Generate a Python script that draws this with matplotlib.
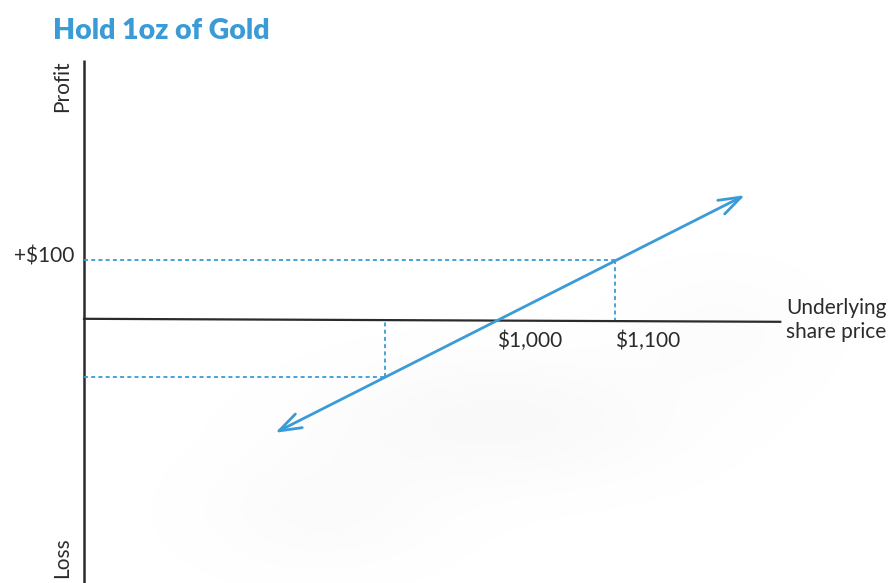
import matplotlib
matplotlib.use("Agg")
import matplotlib.pyplot as plt
import numpy as np

# Data (price in $, profit in $)
strike_prices = [1000, 1100]
strike_labels = ["$1,000", "$1,100"]
profit_level = 100
profit_label = "+$100"
loss_point = (905, -95)
line_start = (812, -188)
line_end = (1210, 208)
axis_x_range = (650, 1240)
axis_y_range = (-440, 433)

BLUE = "#3a9bd6"
DARK = "#2b2b2b"

fig = plt.figure(figsize=(8.9, 5.83), dpi=100)
ax = fig.add_axes([0, 0, 1, 1])
ax.set_xlim(578.8, 1333.0)
ax.set_ylim(-438.3, 533.3)
ax.axis("off")

# soft background shadow (decorative)
gx = np.linspace(578.8, 1333.0, 400)
gy = np.linspace(-438.3, 533.3, 300)
X, Y = np.meshgrid(gx, gy)
blob = (0.9 * np.exp(-(((X - 1000) / 140) ** 2 + ((Y + 170) / 100) ** 2))
        + 0.5 * np.exp(-(((X - 850) / 100) ** 2 + ((Y + 320) / 100) ** 2))
        + 0.4 * np.exp(-(((X - 1190) / 80) ** 2 + ((Y + 20) / 100) ** 2)))
blob = np.clip(blob, 0, 1)
rgba = np.zeros(blob.shape + (4,))
rgba[..., :3] = 0.55
rgba[..., 3] = 0.06 * blob
ax.imshow(rgba, extent=[578.8, 1333.0, -438.3, 533.3], origin="lower",
          aspect="auto", zorder=0, interpolation="bilinear")

# axes lines
ax.plot([axis_x_range[0], axis_x_range[0]], [axis_y_range[0], axis_y_range[1]],
        color=DARK, lw=1.8, zorder=2, solid_capstyle="butt")
ax.plot([axis_x_range[0], axis_x_range[1]], [2, -3], color=DARK, lw=1.6, zorder=2)

# dashed guides
dash = dict(color=BLUE, lw=1.3, ls=(0, (2.2, 1.8)), zorder=3)
ax.plot([axis_x_range[0], strike_prices[1]], [profit_level, profit_level], **dash)
ax.plot([strike_prices[1], strike_prices[1]], [profit_level, 0], **dash)
ax.plot([axis_x_range[0], loss_point[0]], [loss_point[1], loss_point[1]], **dash)
ax.plot([loss_point[0], loss_point[0]], [loss_point[1], 0], **dash)

# payoff line with arrows at both ends
ax.annotate("", xy=line_end, xytext=line_start,
            arrowprops=dict(arrowstyle="<->,head_length=1.6,head_width=0.55",
                            color=BLUE, lw=2.0, shrinkA=0, shrinkB=0),
            zorder=4)

# text
fam = ["Lato", "DejaVu Sans"]
fs = 15
fig.text(53 / 890, 1 - 31 / 583, "Hold 1oz of Gold", color=BLUE, fontsize=20.5,
         fontweight="heavy", family=fam, va="center", ha="left")
fig.text(62 / 890, 1 - 86 / 583, "Profit", rotation=90, fontsize=fs,
         family=fam, color=DARK, va="center", ha="center")
fig.text(62 / 890, 1 - 558 / 583, "Loss", rotation=90, fontsize=fs,
         family=fam, color=DARK, va="center", ha="center")
ax.text(642, profit_level + 5, profit_label, fontsize=fs, family=fam,
        color=DARK, ha="right", va="center")
for p, lab in zip(strike_prices, strike_labels):
    ax.text(p, -35, lab, fontsize=fs, family=fam, color=DARK,
            ha="left", va="center")
ax.text(1245, 0, "Underlying\nshare price", fontsize=fs, family=fam,
        color=DARK, ha="left", va="center", linespacing=1.2)

fig.savefig("out.png", dpi=100)
